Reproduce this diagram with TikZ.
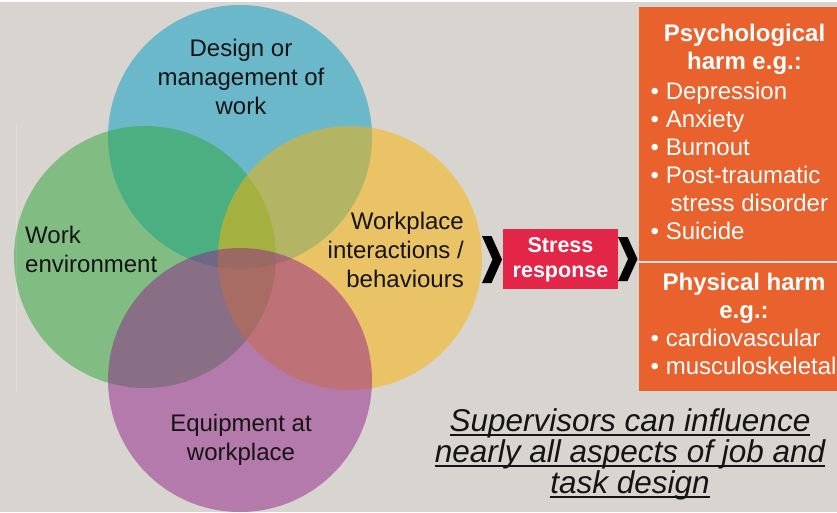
\documentclass[tikz,border=0pt]{standalone}
\usepackage{fontspec}
\setmainfont{Liberation Sans}
\definecolor{bgC}{RGB}{216,212,207}
\definecolor{blueC}{RGB}{0,158,199}
\definecolor{greenC}{RGB}{44,168,57}
\definecolor{yellowC}{RGB}{254,180,0}
\definecolor{purpleC}{RGB}{146,34,137}
\definecolor{stressC}{RGB}{227,37,72}
\definecolor{harmC}{RGB}{233,97,45}
\definecolor{inkC}{RGB}{20,20,20}
% underline drawn as a rule under the whole line
\newcommand{\ulined}[1]{\setbox0=\hbox{#1}\rlap{\rule[-4.5pt]{\wd0}{2pt}}\box0}
\begin{document}
\begin{tikzpicture}[x=1pt,y=-1pt,
  lbl/.style={inner sep=0pt, text=inkC, font=\fontsize{24}{29}\selectfont},
  disc/.style={opacity=0.5},
  hd/.style={inner sep=0pt, text=white, align=center, font=\fontsize{24}{28}\selectfont\bfseries},
  item/.style={inner sep=0pt, text=white, align=left, font=\fontsize{24}{28}\selectfont},
  chevron/.style={fill=black}]
% slide background
\fill[bgC] (0,0) rectangle (837,512);
\useasboundingbox (0,0) rectangle (837,512);
\fill[white!95!bgC] (0,0) rectangle (837,2);
\draw[white!25!bgC, line width=1pt] (16.5,125) -- (16.5,392);

% four overlapping areas of work
\fill[blueC, disc]   (240,137) circle[radius=132pt];
\fill[greenC, disc]  (145,257) circle[radius=131pt];
\fill[yellowC, disc] (350,258) circle[radius=132pt];
\fill[purpleC, disc] (240,380) circle[radius=132pt];

\node[lbl, align=center] (design) at (241,76.5) {Design or\\management of\\work};
\node[lbl, align=left, anchor=west] (workenv) at (25,249.5) {Work\\environment};
\node[lbl, align=right, anchor=east] (interact) at (464,250) {Workplace\\interactions /\\behaviours};
\node[lbl, align=center] (equip) at (241,440) {Equipment at\\workplace};

% stress response
\node[fill=stressC, minimum width=115pt, minimum height=60pt, inner sep=0pt] (stressbox) at (560.5,259) {};
\node[inner sep=0pt, text=white, align=center, font=\fontsize{21.5}{24.5}\selectfont\bfseries] (stress) at (560.5,259.5) {Stress\\response};

% chevrons leading into and out of the stress response
\fill[chevron] (482,236) -- (491.5,236) -- (502,259.5) -- (491.5,283) -- (482,283) -- (492.5,259.5) -- cycle;
\fill[chevron] (618,237) -- (627.5,237) -- (637.5,259) -- (627.5,281) -- (618,281) -- (628,259) -- cycle;

% harm panel
\node[fill=harmC, minimum width=200pt, minimum height=384pt, inner sep=0pt, anchor=north west] (harm) at (639,7) {};
\coordinate (divL) at (639,262);
\coordinate (divR) at (839,262);
\draw[bgC!60!white, line width=2pt] (divL) -- (divR);

\node[hd] (psyhd) at (744.5,49) {Psychological\\harm e.g.:};
\node[item, anchor=west] (psylist) at (650.5,161) {• Depression\\• Anxiety\\• Burnout\\• Post-traumatic\\\hspace*{20pt}stress disorder\\• Suicide};
\node[hd] (phyhd) at (744,298) {Physical harm\\e.g.:};
\node[item, anchor=west] (phylist) at (650.5,352) {• cardiovascular\\• musculoskeletal};

% closing remark
\node[inner sep=0pt, text=inkC, align=center, font=\fontsize{31.5}{31}\selectfont\itshape] (note) at (630,454)
  {\ulined{Supervisors can influence}\\\ulined{nearly all aspects of job and}\\\ulined{task design}};
\end{tikzpicture}
\end{document}
